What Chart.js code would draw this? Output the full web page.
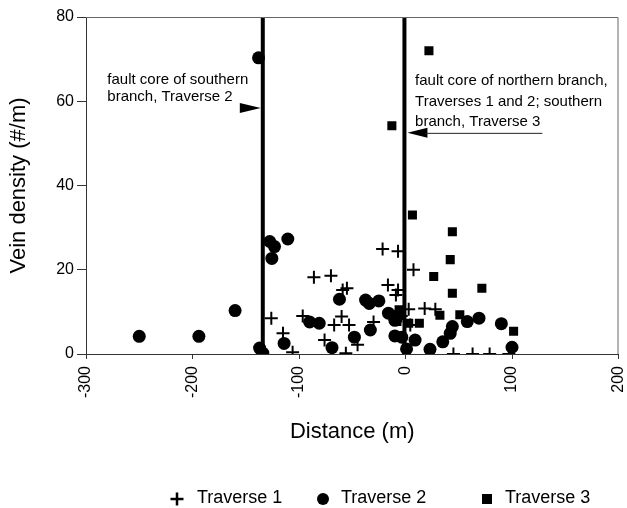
<!DOCTYPE html>
<html>
<head>
<meta charset="utf-8">
<script src="https://cdn.jsdelivr.net/npm/chart.js@4/dist/chart.umd.min.js"></script>
<style>
  html, body { margin: 0; padding: 0; background: #fff; }
  #wrap { width: 627px; height: 508px; position: relative; }
</style>
</head>
<body>
<div id="wrap"><canvas id="veinChart"></canvas></div>
<script>
// ==========================================
// DATA
// ==========================================
const traverse1X = [-126, -115, -106, -96.5, -86, -70, -76, -67, -60, -59, -55, -56, -53, -45, -30,
                    -21.5, -7, 7.5, -16.5, -7, -9, 3, 18, 28, 4.5, -4, 45, 63, 79, 97];
const traverse1Y = [8.5, 4.9, 0.4, 9, 18.2, 18.6, 3.3, 6.9, 8.9, 15.2, 15.6, 0.2, 6.9, 2.2, 7.6,
                    24.9, 24.4, 20, 16.4, 15.2, 14, 10.6, 10.8, 10.6, 6.9, 9, 0, 0, 0, 0];

const traverse2X = [-250, -194, -160, -138, -137, -134, -127.5, -123, -125.5, -110.5, -114, -90, -81,
                    -69, -62, -48, -37.5, -34, -25, -33, -16, -10, -10, -6.5, -3.5, 1, 9, 23, 35,
                    42, 44, 58, 69, 90, 100];
const traverse2Y = [4.2, 4.2, 10.3, 70.3, 1.4, 0.2, 26.7, 25.5, 22.7, 27.3, 2.5, 7.6, 7.3,
                    1.5, 13, 4, 12.8, 12, 12.6, 5.7, 9.7, 4.3, 8, 9.3, 4, 1.2, 3.3, 1.1, 2.9,
                    4.9, 6.5, 7.7, 8.5, 7.2, 1.6];

const traverse3X = [22, -12.8, 6.5, 44, 42, 26.5, 71.7, 44, 32.3, 51, 13, 101.5, -6, -8, 3];
const traverse3Y = [72, 54.2, 33, 29, 22.4, 18.4, 15.6, 14.4, 9.2, 9.3, 7.3, 5.4, 10.5, 7.7, 7.3];

// fault core positions (m)
const southernFault = -134;
const northernFault = -1;

// axis ranges / ticks
const xMin = -300, xMax = 200, xStep = 100;
const yMin = 0, yMax = 80, yStep = 20;

function toPoints(xs, ys) {
    return xs.map((x, i) => ({ x: x, y: ys[i] }));
}

const FONT = '"Liberation Sans", Arial, Helvetica, sans-serif';
Chart.defaults.font.family = FONT;
Chart.defaults.color = '#000';

// ==========================================
// PLUGIN: frame, annotations, legend
// ==========================================
const extrasPlugin = {
    id: 'extras',
    afterDraw(chart) {
        const ctx = chart.ctx;
        const a = chart.chartArea;
        const xs = chart.scales.x, ys = chart.scales.y;

        // top + right frame
        ctx.save();
        ctx.strokeStyle = '#666';
        ctx.lineWidth = 1;
        ctx.beginPath();
        ctx.moveTo(a.left, a.top + 0.5);
        ctx.lineTo(a.right - 0.5, a.top + 0.5);
        ctx.lineTo(a.right - 0.5, a.bottom);
        ctx.stroke();

        // annotation text
        ctx.fillStyle = '#000';
        ctx.font = '15px ' + FONT;
        ctx.textAlign = 'left';
        ctx.textBaseline = 'alphabetic';
        ctx.fillText('fault core of southern', xs.getPixelForValue(-280), ys.getPixelForValue(64.1));
        ctx.fillText('branch, Traverse 2', xs.getPixelForValue(-280), ys.getPixelForValue(60.1));

        ctx.fillText('fault core of northern branch,', xs.getPixelForValue(9), ys.getPixelForValue(63.9));
        ctx.fillText('Traverses 1 and 2; southern', xs.getPixelForValue(9), ys.getPixelForValue(58.9));
        ctx.fillText('branch, Traverse 3', xs.getPixelForValue(9), ys.getPixelForValue(54.2));

        // southern arrow (points right, to the fault line)
        let tipX = xs.getPixelForValue(southernFault) - 2;
        let ay = ys.getPixelForValue(58.4);
        ctx.beginPath();
        ctx.moveTo(tipX, ay);
        ctx.lineTo(tipX - 21, ay - 5);
        ctx.lineTo(tipX - 21, ay + 5);
        ctx.closePath();
        ctx.fill();

        // northern arrow (points left, with tail line)
        tipX = xs.getPixelForValue(northernFault) + 3;
        ay = ys.getPixelForValue(52.5);
        ctx.beginPath();
        ctx.moveTo(tipX, ay);
        ctx.lineTo(tipX + 20, ay - 5);
        ctx.lineTo(tipX + 20, ay + 5);
        ctx.closePath();
        ctx.fill();
        ctx.strokeStyle = '#222';
        ctx.beginPath();
        ctx.moveTo(tipX + 18, ay + 0.5);
        ctx.lineTo(xs.getPixelForValue(128.5), ay + 0.5);
        ctx.stroke();

        // legend
        const legendY = 499;
        const markerX = [177, 323, 487];
        const textX = [197, 341, 505];
        ctx.font = '18px ' + FONT;
        ctx.textBaseline = 'middle';
        chart.data.datasets.slice(0, 3).forEach((ds, i) => {
            const mx = markerX[i];
            ctx.fillStyle = '#000';
            ctx.strokeStyle = '#000';
            if (ds.pointStyle === 'cross') {
                ctx.lineWidth = 2.5;
                ctx.beginPath();
                ctx.moveTo(mx - 6.5, legendY); ctx.lineTo(mx + 6.5, legendY);
                ctx.moveTo(mx, legendY - 6.5); ctx.lineTo(mx, legendY + 6.5);
                ctx.stroke();
            } else if (ds.pointStyle === 'circle') {
                ctx.beginPath();
                ctx.arc(mx, legendY, 6, 0, Math.PI * 2);
                ctx.fill();
            } else {
                ctx.fillRect(mx - 5, legendY - 5, 10, 10);
            }
            ctx.fillText(ds.label, textX[i], legendY - 1);
        });
        ctx.restore();
    }
};

// ==========================================
// CHART
// ==========================================
const ctx = document.getElementById('veinChart');
new Chart(ctx, {
    type: 'scatter',
    data: {
        datasets: [
            {
                label: 'Traverse 1',
                data: toPoints(traverse1X, traverse1Y),
                pointStyle: 'cross',
                pointRadius: 6.5,
                borderWidth: 2,
                borderColor: '#000',
                backgroundColor: '#000'
            },
            {
                label: 'Traverse 2',
                data: toPoints(traverse2X, traverse2Y),
                pointStyle: 'circle',
                pointRadius: 6.5,
                borderWidth: 0,
                borderColor: '#000',
                backgroundColor: '#000'
            },
            {
                label: 'Traverse 3',
                data: toPoints(traverse3X, traverse3Y),
                pointStyle: 'rect',
                pointRadius: 6.4,
                borderWidth: 0,
                borderColor: '#000',
                backgroundColor: '#000'
            },
            {
                type: 'line',
                label: 'southern fault core',
                data: [{ x: southernFault, y: yMin }, { x: southernFault, y: yMax }],
                borderColor: '#000',
                borderWidth: 4,
                pointRadius: 0,
                showLine: true
            },
            {
                type: 'line',
                label: 'northern fault core',
                data: [{ x: northernFault, y: yMin }, { x: northernFault, y: yMax }],
                borderColor: '#000',
                borderWidth: 4,
                pointRadius: 0,
                showLine: true
            }
        ]
    },
    options: {
        responsive: true,
        maintainAspectRatio: false,
        animation: false,
        layout: { padding: { left: 0, right: 4, top: 17, bottom: 63 } },
        scales: {
            x: {
                type: 'linear',
                min: xMin,
                max: xMax,
                afterFit: s => { s.height = 91; s.paddingLeft = 0; s.paddingRight = 0; },
                ticks: {
                    stepSize: xStep,
                    minRotation: 90,
                    maxRotation: 90,
                    padding: 7,
                    color: '#000',
                    font: { size: 16 }
                },
                grid: { drawOnChartArea: false, tickLength: 5, color: '#333' },
                border: { color: '#333', width: 1 },
                title: {
                    display: true,
                    text: 'Distance (m)',
                    color: '#000',
                    font: { size: 22 },
                    padding: { top: 2, bottom: 0 }
                }
            },
            y: {
                min: yMin,
                max: yMax,
                afterFit: s => { s.width = 86; s.paddingTop = 0; s.paddingBottom = 0; },
                ticks: {
                    stepSize: yStep,
                    padding: 3,
                    color: '#000',
                    font: { size: 16 }
                },
                grid: { drawOnChartArea: false, tickLength: 9, color: '#333' },
                border: { color: '#333', width: 1 },
                title: {
                    display: true,
                    text: 'Vein density (#/m)',
                    color: '#000',
                    font: { size: 22 },
                    padding: { top: 6, bottom: 0 }
                }
            }
        },
        plugins: {
            legend: { display: false },
            tooltip: { enabled: false }
        }
    },
    plugins: [extrasPlugin]
});
</script>
</body>
</html>
